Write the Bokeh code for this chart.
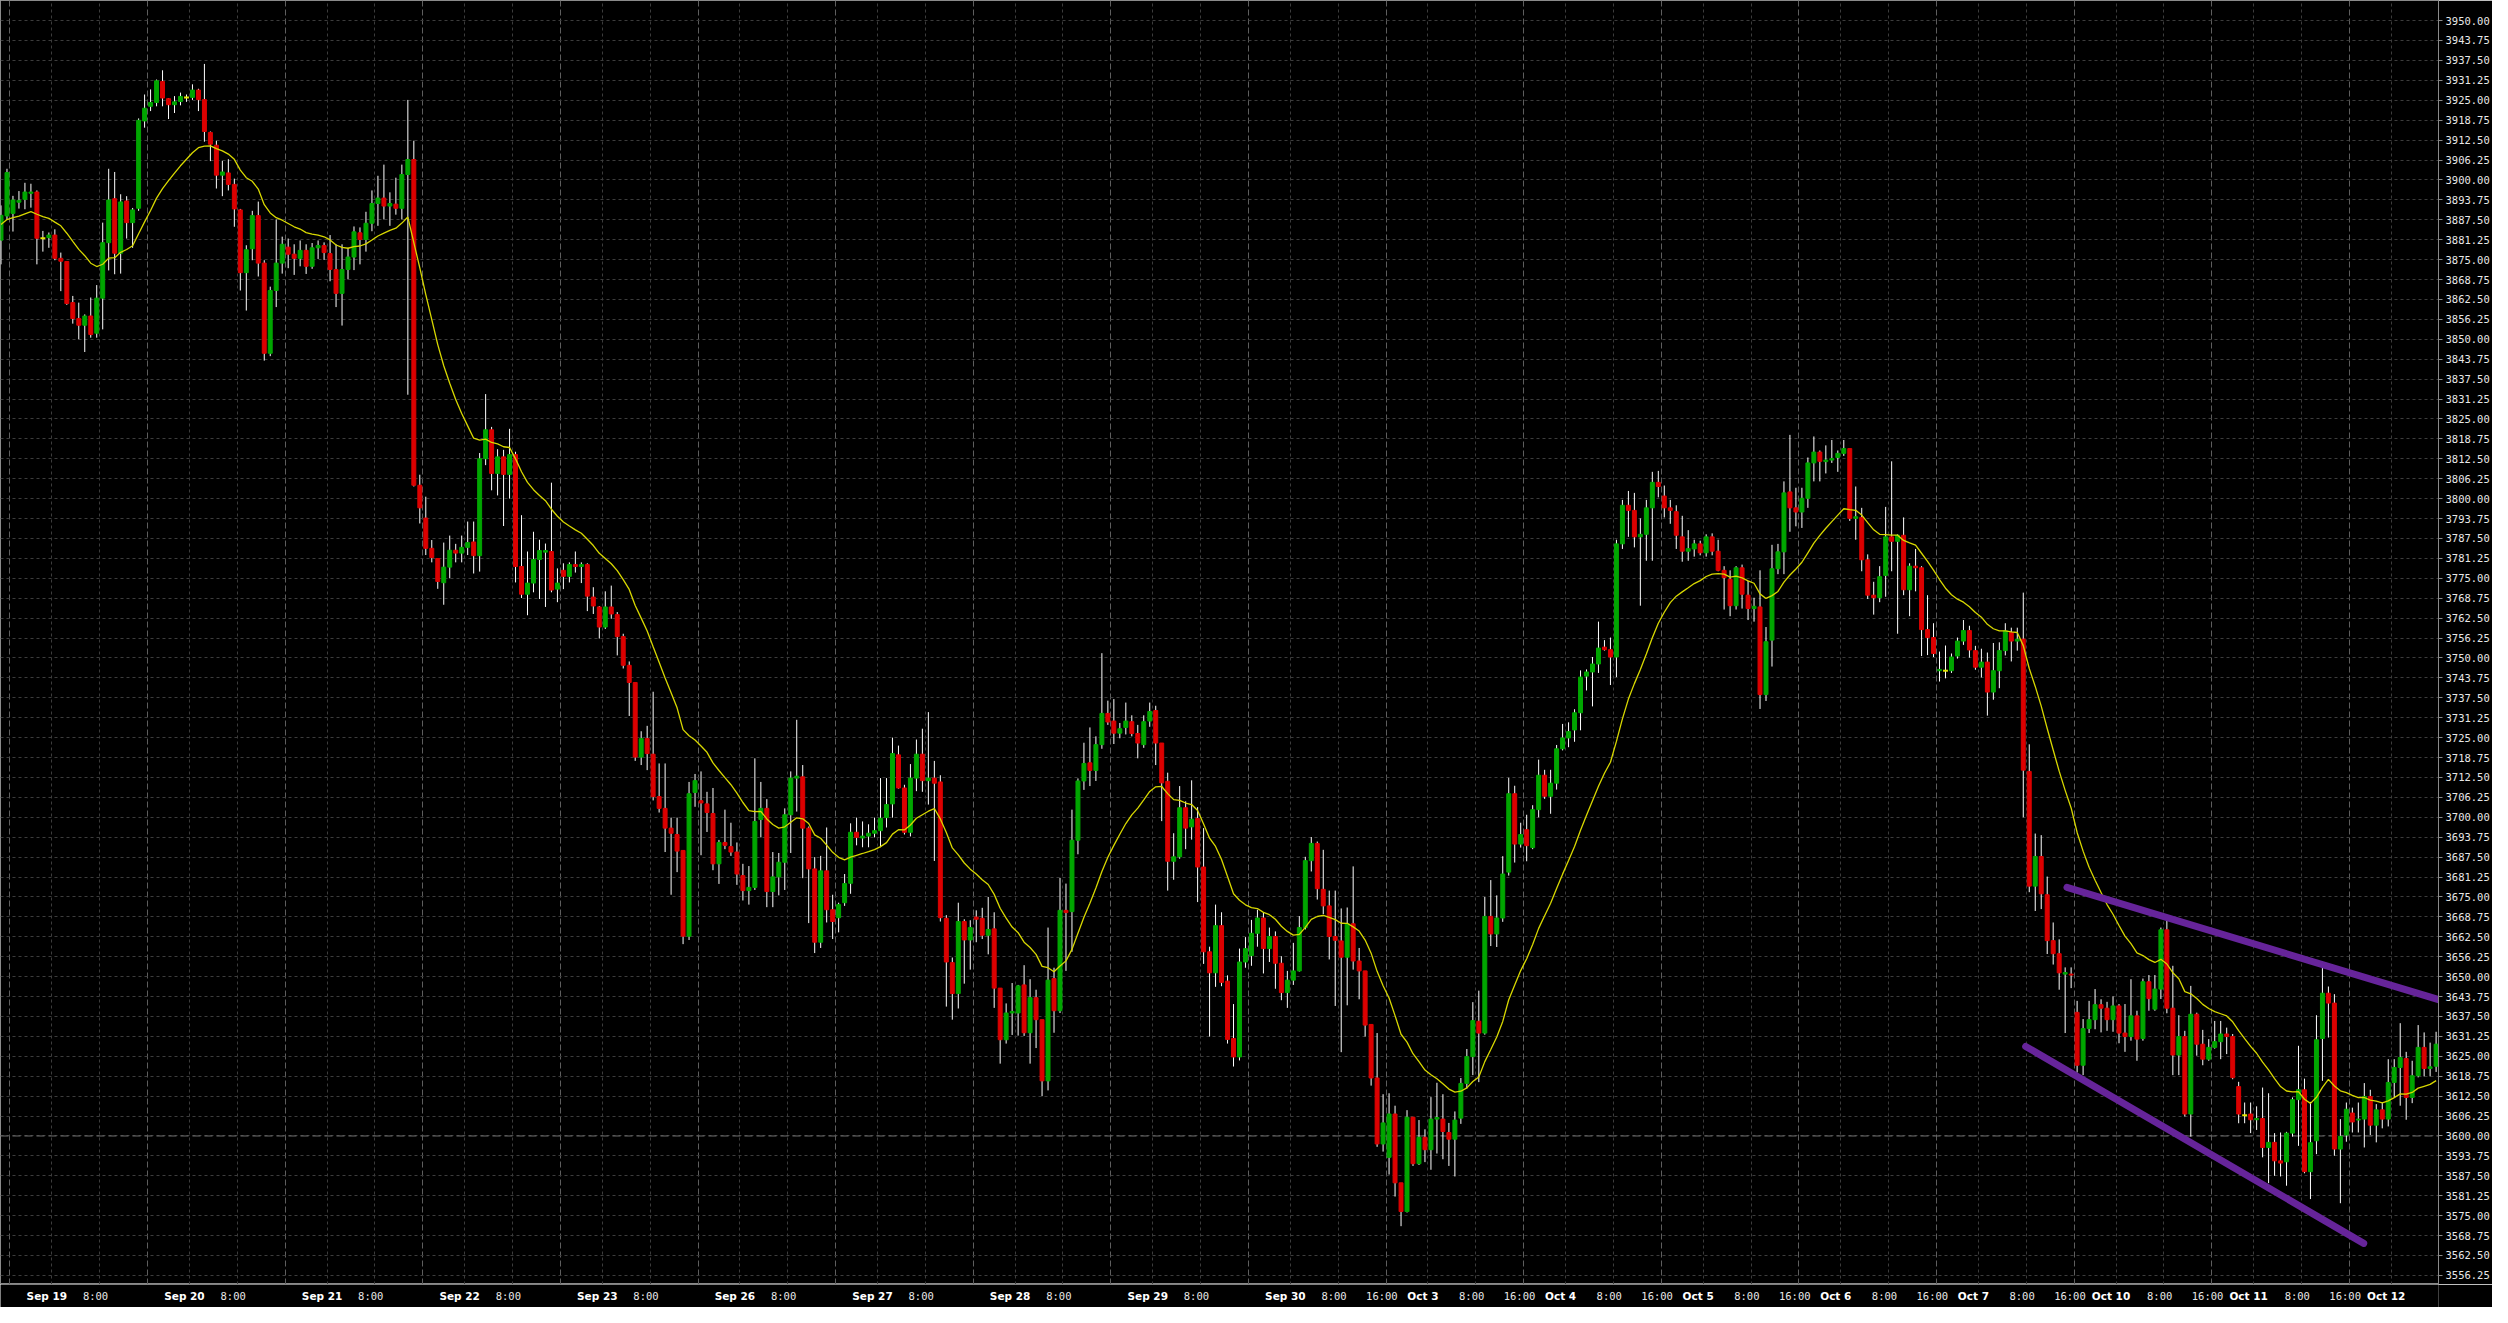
import numpy as np
from bokeh.plotting import figure
from bokeh.layouts import column
from bokeh.models import (Range1d, FixedTicker, Grid, PrintfTickFormatter, Span)
from bokeh.embed import file_html
from bokeh.resources import INLINE
from bokeh.core.properties import value

# ---------------- data (hourly bars) ----------------
opens = [
3881.1, 3888.7, 3889.5, 3893.0, 3893.9, 3895.8, 3896.2, 3881.7, 3881.9, 3882.7,
3875.4, 3874.4, 3861.5, 3856.5, 3854.4, 3857.3, 3851.9, 3862.9, 3880.3, 3894.1,
3877.0, 3893.4, 3886.6, 3891.1, 3918.5, 3923.1, 3924.3, 3930.9, 3925.5, 3923.6,
3924.6, 3925.9, 3925.9, 3928.2, 3925.2, 3914.9, 3910.9, 3901.5, 3902.2, 3898.6,
3890.6, 3870.9, 3878.4, 3888.8, 3873.9, 3845.6, 3865.3, 3873.9, 3878.9, 3876.7,
3875.4, 3877.9, 3872.9, 3878.7, 3879.4, 3876.9, 3871.9, 3864.4, 3871.9, 3875.8,
3883.4, 3881.3, 3886.4, 3892.6, 3894.3, 3891.8, 3892.4, 3891.1, 3901.7, 3906.4,
3804.2, 3793.9, 3784.4, 3781.2, 3773.6, 3778.5, 3783.8, 3782.9, 3784.7, 3786.4,
3782.1, 3812.5, 3821.6, 3807.9, 3813.1, 3807.6, 3813.8, 3778.7, 3770.0, 3773.5,
3780.9, 3783.2, 3783.4, 3771.6, 3777.5, 3775.6, 3779.3, 3778.7, 3779.3, 3769.1,
3766.0, 3759.7, 3766.0, 3763.6, 3756.7, 3747.7, 3742.3, 3718.9, 3724.7, 3719.8,
3706.5, 3702.8, 3696.6, 3694.6, 3689.6, 3662.7, 3707.8, 3705.2, 3704.2, 3701.2,
3685.4, 3692.1, 3690.8, 3689.1, 3681.7, 3677.0, 3678.0, 3699.3, 3702.8, 3676.7,
3681.3, 3685.9, 3700.8, 3712.3, 3712.7, 3696.6, 3683.8, 3660.8, 3683.2, 3671.0,
3668.5, 3673.2, 3679.3, 3695.3, 3693.5, 3694.1, 3695.0, 3695.8, 3699.9, 3704.2,
3719.6, 3709.2, 3695.3, 3712.3, 3719.8, 3711.5, 3712.3, 3711.1, 3668.3, 3654.4,
3644.7, 3667.3, 3661.5, 3668.7, 3668.3, 3663.0, 3665.0, 3646.4, 3630.2, 3638.6,
3638.6, 3647.4, 3632.4, 3643.4, 3636.5, 3617.3, 3649.4, 3639.3, 3670.8, 3670.4,
3692.8, 3711.4, 3717.1, 3714.7, 3722.8, 3732.6, 3730.2, 3726.4, 3728.2, 3730.0,
3726.3, 3722.8, 3730.2, 3733.5, 3723.3, 3711.3, 3686.2, 3687.6, 3703.0, 3697.0,
3699.6, 3684.4, 3657.8, 3651.2, 3666.0, 3648.6, 3630.6, 3624.8, 3654.6, 3656.6,
3663.6, 3668.4, 3658.8, 3662.6, 3654.2, 3645.0, 3648.9, 3651.8, 3665.4, 3686.4,
3691.8, 3677.4, 3672.2, 3662.6, 3661.2, 3656.1, 3666.6, 3654.9, 3651.8, 3635.0,
3618.2, 3597.5, 3593.3, 3606.9, 3585.3, 3576.3, 3605.9, 3591.3, 3599.6, 3595.7,
3605.3, 3605.3, 3601.1, 3599.0, 3605.6, 3616.5, 3624.9, 3636.0, 3632.3, 3668.9,
3663.4, 3668.4, 3682.8, 3707.4, 3691.6, 3696.1, 3690.5, 3702.4, 3713.2, 3706.6,
3710.7, 3721.5, 3724.9, 3727.4, 3732.8, 3744.3, 3745.6, 3748.1, 3753.4, 3752.6,
3750.3, 3785.8, 3797.9, 3796.3, 3788.0, 3788.8, 3797.1, 3805.1, 3800.8, 3797.1,
3795.9, 3788.0, 3783.5, 3784.2, 3785.8, 3783.0, 3788.0, 3783.5, 3777.5, 3774.7,
3766.4, 3778.3, 3769.7, 3765.5, 3766.0, 3738.5, 3755.6, 3778.0, 3783.3, 3802.1,
3797.1, 3795.8, 3800.1, 3811.2, 3814.6, 3811.6, 3812.1, 3812.9, 3814.2, 3815.7,
3793.8, 3794.1, 3780.8, 3769.7, 3768.9, 3775.9, 3788.0, 3786.6, 3788.5, 3771.4,
3778.8, 3778.3, 3758.9, 3756.4, 3746.0, 3746.0, 3746.0, 3750.6, 3755.3, 3758.6,
3752.3, 3747.1, 3748.7, 3739.3, 3746.0, 3752.3, 3758.0, 3755.3, 3755.9, 3714.4,
3678.4, 3687.7, 3675.7, 3661.3, 3657.2, 3650.8, 3650.8, 3638.8, 3622.2, 3633.7,
3636.5, 3641.2, 3640.1, 3636.5, 3640.8, 3632.3, 3631.2, 3637.7, 3630.6, 3648.4,
3639.8, 3646.1, 3664.7, 3640.1, 3625.4, 3631.2, 3606.9, 3638.2, 3628.8, 3624.1,
3627.8, 3629.6, 3632.0, 3631.2, 3615.5, 3606.5, 3606.9, 3605.1, 3605.5, 3596.4,
3598.0, 3592.2, 3591.9, 3600.9, 3611.4, 3614.5, 3588.8, 3598.5, 3630.6, 3644.8,
3641.7, 3595.9, 3600.3, 3607.2, 3605.0, 3605.3, 3612.4, 3603.4, 3608.2, 3605.3,
3616.8, 3621.5, 3624.3, 3612.1, 3618.9, 3627.8, 3621.2, 3621.9]

highs = [
3892.0, 3903.5, 3895.0, 3896.5, 3899.1, 3898.8, 3896.7, 3884.0, 3883.5, 3884.5,
3877.2, 3874.5, 3863.6, 3861.5, 3857.8, 3863.1, 3867.0, 3886.6, 3903.5, 3902.5,
3895.5, 3894.9, 3891.2, 3919.3, 3926.8, 3928.4, 3931.5, 3934.4, 3925.7, 3926.3,
3927.4, 3926.8, 3930.0, 3928.6, 3936.4, 3915.2, 3912.3, 3906.0, 3906.5, 3900.4,
3890.9, 3879.5, 3890.3, 3893.2, 3874.8, 3866.5, 3887.6, 3882.2, 3881.6, 3879.8,
3881.0, 3879.8, 3880.2, 3881.0, 3880.4, 3882.7, 3879.8, 3879.8, 3878.7, 3885.4,
3885.1, 3890.0, 3896.7, 3901.3, 3904.8, 3896.1, 3900.7, 3904.8, 3925.1, 3912.3,
3807.5, 3800.6, 3787.0, 3781.2, 3786.2, 3788.4, 3785.8, 3788.4, 3792.8, 3792.8,
3814.3, 3832.8, 3822.5, 3815.5, 3815.3, 3821.9, 3814.7, 3794.8, 3783.4, 3789.6,
3787.1, 3785.9, 3805.0, 3778.1, 3779.7, 3780.0, 3783.4, 3780.0, 3779.7, 3772.2,
3766.3, 3770.9, 3772.7, 3764.4, 3757.6, 3748.9, 3742.3, 3727.0, 3728.7, 3739.4,
3716.9, 3716.9, 3699.9, 3699.9, 3689.6, 3711.1, 3713.6, 3714.4, 3708.0, 3709.2,
3692.9, 3702.4, 3698.3, 3692.1, 3685.4, 3684.7, 3718.5, 3711.1, 3705.7, 3689.1,
3688.8, 3702.8, 3714.4, 3730.6, 3716.4, 3697.1, 3687.5, 3687.9, 3696.8, 3675.7,
3673.2, 3682.2, 3698.1, 3699.9, 3698.7, 3697.8, 3699.9, 3712.3, 3712.3, 3725.0,
3722.5, 3710.2, 3716.7, 3724.4, 3727.8, 3733.0, 3717.7, 3713.2, 3669.3, 3656.0,
3673.2, 3668.0, 3667.7, 3670.8, 3671.6, 3675.0, 3670.2, 3646.4, 3641.6, 3648.0,
3647.4, 3653.6, 3649.2, 3645.9, 3636.5, 3665.4, 3652.8, 3681.0, 3679.2, 3702.4,
3712.2, 3723.4, 3728.2, 3725.4, 3751.5, 3736.6, 3737.1, 3729.6, 3736.0, 3732.0,
3729.0, 3732.0, 3736.0, 3735.0, 3723.3, 3714.0, 3695.0, 3709.8, 3705.0, 3711.6,
3703.2, 3696.6, 3659.4, 3672.6, 3670.2, 3650.4, 3641.4, 3658.8, 3662.4, 3667.8,
3671.0, 3670.2, 3665.4, 3664.2, 3656.4, 3651.8, 3660.6, 3669.0, 3687.6, 3693.8,
3692.4, 3689.8, 3677.0, 3677.0, 3671.4, 3671.7, 3684.6, 3659.0, 3651.8, 3635.0,
3632.3, 3613.1, 3613.4, 3609.5, 3585.3, 3608.1, 3605.9, 3605.0, 3602.1, 3612.2,
3616.7, 3613.1, 3604.1, 3607.7, 3618.2, 3627.3, 3642.0, 3645.6, 3675.0, 3680.3,
3675.5, 3687.8, 3712.4, 3709.9, 3698.3, 3700.8, 3703.8, 3718.1, 3714.9, 3714.9,
3722.7, 3729.3, 3729.8, 3733.9, 3746.1, 3746.4, 3750.3, 3761.4, 3755.6, 3756.4,
3787.1, 3799.6, 3802.4, 3801.8, 3793.8, 3799.6, 3808.4, 3808.7, 3804.1, 3799.6,
3797.9, 3794.6, 3790.1, 3787.1, 3786.8, 3788.8, 3789.1, 3787.1, 3778.8, 3777.5,
3778.8, 3779.3, 3774.2, 3768.9, 3777.5, 3759.7, 3785.5, 3785.8, 3805.4, 3820.0,
3803.4, 3803.4, 3812.9, 3819.5, 3815.1, 3816.7, 3818.4, 3815.1, 3818.4, 3815.7,
3803.8, 3797.1, 3782.5, 3773.9, 3778.8, 3797.4, 3811.7, 3788.8, 3794.1, 3779.7,
3784.2, 3778.8, 3769.7, 3760.9, 3752.0, 3753.9, 3751.4, 3756.4, 3761.9, 3760.1,
3753.8, 3752.9, 3751.7, 3754.7, 3754.9, 3760.9, 3759.5, 3759.5, 3770.5, 3722.9,
3694.9, 3694.4, 3681.4, 3667.0, 3661.7, 3652.9, 3652.9, 3642.4, 3636.7, 3642.4,
3646.1, 3642.9, 3642.1, 3643.8, 3641.4, 3641.4, 3649.2, 3639.3, 3649.4, 3650.5,
3650.5, 3665.4, 3667.5, 3653.4, 3637.9, 3633.0, 3647.1, 3638.7, 3633.3, 3630.4,
3636.1, 3636.1, 3634.0, 3632.0, 3617.0, 3610.5, 3610.5, 3609.3, 3615.2, 3613.4,
3600.9, 3601.1, 3601.3, 3612.1, 3628.3, 3618.0, 3610.7, 3637.9, 3652.9, 3646.9,
3644.5, 3605.3, 3610.5, 3608.9, 3610.5, 3616.6, 3614.5, 3610.0, 3610.5, 3624.1,
3624.1, 3635.4, 3626.4, 3623.6, 3634.8, 3632.5, 3629.3, 3632.7]

lows = [
3873.5, 3887.6, 3883.8, 3891.0, 3890.8, 3891.3, 3873.5, 3877.5, 3878.7, 3874.8,
3865.1, 3860.8, 3854.9, 3850.0, 3846.0, 3850.5, 3850.5, 3853.1, 3871.6, 3870.4,
3870.6, 3881.6, 3878.7, 3890.3, 3916.4, 3921.6, 3923.1, 3923.1, 3919.1, 3921.0,
3923.4, 3924.5, 3925.1, 3921.6, 3912.0, 3905.9, 3897.3, 3894.9, 3896.7, 3885.3,
3865.3, 3859.0, 3874.8, 3869.7, 3843.3, 3844.7, 3860.1, 3870.6, 3872.3, 3870.2,
3872.9, 3870.5, 3872.1, 3875.2, 3874.9, 3868.2, 3860.1, 3854.3, 3868.8, 3871.7,
3873.5, 3877.5, 3883.9, 3885.6, 3887.6, 3885.6, 3889.1, 3887.6, 3832.6, 3803.8,
3792.2, 3782.3, 3780.0, 3771.7, 3766.7, 3775.0, 3780.0, 3780.0, 3782.3, 3776.5,
3777.1, 3810.5, 3802.6, 3801.0, 3791.4, 3800.0, 3773.7, 3768.8, 3763.4, 3770.6,
3768.5, 3766.0, 3770.6, 3767.5, 3771.6, 3773.7, 3776.8, 3773.5, 3764.7, 3763.8,
3756.1, 3759.1, 3762.3, 3750.8, 3746.7, 3731.8, 3717.7, 3716.4, 3714.8, 3705.3,
3701.5, 3689.1, 3675.7, 3682.8, 3660.2, 3661.5, 3703.3, 3688.1, 3695.4, 3683.4,
3679.1, 3690.0, 3687.9, 3678.8, 3673.9, 3672.6, 3677.2, 3693.7, 3671.8, 3671.8,
3675.5, 3677.2, 3688.8, 3701.8, 3680.9, 3666.8, 3657.4, 3659.0, 3667.0, 3661.8,
3663.9, 3672.2, 3676.0, 3691.2, 3690.6, 3690.6, 3693.7, 3690.6, 3696.8, 3699.9,
3709.0, 3694.6, 3694.0, 3708.2, 3708.0, 3704.0, 3686.3, 3667.3, 3640.6, 3636.5,
3640.0, 3647.8, 3652.2, 3660.8, 3661.8, 3657.0, 3640.2, 3622.7, 3629.0, 3631.7,
3631.5, 3631.4, 3622.7, 3627.6, 3612.5, 3614.3, 3632.4, 3638.6, 3651.8, 3657.8,
3688.4, 3708.6, 3709.8, 3711.4, 3721.5, 3729.0, 3723.0, 3724.8, 3726.0, 3725.4,
3718.5, 3721.8, 3728.4, 3716.4, 3698.8, 3677.0, 3680.4, 3687.0, 3690.0, 3693.0,
3673.4, 3654.0, 3631.2, 3646.8, 3647.0, 3629.0, 3621.8, 3623.7, 3652.8, 3653.4,
3659.4, 3651.0, 3654.6, 3646.2, 3642.6, 3640.2, 3647.4, 3651.6, 3664.8, 3683.0,
3674.2, 3669.6, 3655.4, 3640.8, 3626.3, 3641.0, 3652.2, 3642.9, 3631.2, 3615.8,
3596.6, 3595.1, 3587.9, 3581.0, 3571.7, 3576.0, 3590.6, 3590.9, 3591.8, 3589.4,
3594.5, 3592.7, 3590.6, 3587.3, 3603.8, 3614.9, 3619.1, 3616.9, 3631.8, 3659.6,
3659.3, 3667.2, 3681.7, 3685.8, 3690.5, 3686.2, 3690.0, 3700.0, 3705.8, 3701.1,
3708.7, 3721.0, 3722.0, 3723.7, 3727.3, 3739.8, 3734.8, 3745.3, 3752.3, 3741.5,
3744.0, 3784.2, 3788.0, 3784.7, 3766.4, 3780.5, 3780.5, 3800.4, 3794.1, 3792.1,
3784.2, 3780.2, 3780.5, 3781.8, 3782.2, 3781.8, 3782.2, 3777.2, 3765.2, 3763.1,
3765.2, 3765.5, 3761.9, 3761.4, 3734.0, 3736.5, 3747.3, 3776.3, 3776.3, 3789.6,
3791.3, 3790.8, 3797.1, 3805.4, 3805.4, 3807.9, 3811.2, 3808.4, 3813.4, 3793.0,
3787.1, 3777.2, 3768.5, 3763.6, 3767.5, 3769.2, 3777.2, 3757.6, 3769.7, 3763.1,
3770.9, 3750.6, 3750.9, 3750.3, 3742.6, 3743.6, 3745.3, 3749.8, 3754.1, 3750.1,
3746.3, 3743.9, 3731.9, 3736.9, 3740.5, 3750.8, 3748.9, 3752.3, 3700.0, 3676.5,
3670.6, 3671.2, 3657.1, 3653.8, 3645.9, 3632.3, 3646.4, 3619.9, 3619.1, 3632.3,
3633.5, 3632.5, 3633.0, 3632.7, 3629.1, 3626.4, 3629.9, 3623.6, 3629.9, 3639.3,
3639.3, 3643.0, 3638.5, 3619.1, 3619.1, 3606.1, 3599.8, 3625.2, 3622.2, 3623.6,
3627.4, 3624.1, 3625.7, 3617.8, 3604.0, 3604.0, 3600.9, 3601.9, 3593.3, 3585.2,
3587.5, 3587.3, 3584.4, 3599.8, 3596.9, 3588.3, 3580.2, 3594.3, 3617.3, 3630.9,
3593.8, 3578.9, 3598.2, 3601.1, 3601.1, 3596.4, 3600.3, 3598.0, 3602.4, 3603.0,
3612.1, 3609.5, 3605.1, 3610.3, 3618.4, 3618.7, 3618.7, 3620.1]

closes = [
3888.9, 3902.3, 3893.7, 3893.6, 3896.2, 3896.2, 3881.7, 3881.7, 3882.7, 3875.4,
3874.5, 3861.2, 3856.5, 3854.4, 3857.3, 3851.5, 3862.9, 3880.3, 3893.7, 3877.0,
3893.1, 3886.6, 3890.6, 3918.7, 3922.5, 3924.3, 3931.1, 3925.7, 3923.6, 3924.5,
3926.2, 3925.9, 3928.2, 3925.2, 3915.2, 3911.2, 3901.5, 3902.5, 3898.6, 3890.9,
3870.9, 3878.1, 3888.8, 3873.9, 3845.6, 3865.3, 3873.9, 3879.8, 3876.7, 3875.4,
3877.9, 3872.9, 3878.7, 3879.4, 3877.2, 3871.9, 3864.4, 3871.9, 3875.8, 3883.7,
3881.3, 3886.4, 3892.6, 3894.3, 3891.8, 3892.6, 3891.1, 3901.7, 3906.4, 3804.2,
3797.1, 3784.4, 3781.5, 3774.0, 3778.5, 3783.8, 3782.9, 3784.7, 3786.2, 3782.1,
3812.5, 3821.6, 3807.9, 3813.1, 3807.6, 3813.8, 3778.7, 3770.0, 3773.5, 3780.9,
3783.7, 3783.7, 3771.3, 3773.5, 3775.6, 3779.3, 3778.7, 3779.3, 3769.4, 3766.3,
3759.7, 3766.0, 3763.8, 3756.7, 3747.7, 3742.3, 3718.9, 3724.7, 3720.0, 3706.5,
3702.8, 3696.6, 3695.0, 3689.4, 3662.7, 3707.4, 3711.5, 3704.5, 3701.5, 3685.4,
3692.1, 3691.2, 3689.1, 3682.2, 3677.0, 3678.0, 3698.7, 3702.8, 3676.7, 3681.3,
3685.9, 3700.8, 3712.3, 3712.9, 3696.6, 3683.8, 3660.8, 3683.2, 3671.0, 3667.3,
3672.6, 3679.2, 3695.3, 3693.7, 3694.1, 3695.0, 3695.8, 3699.7, 3704.0, 3720.0,
3709.2, 3695.3, 3712.3, 3719.8, 3711.5, 3712.3, 3710.7, 3668.5, 3654.6, 3644.7,
3667.3, 3661.5, 3665.4, 3668.0, 3663.0, 3664.8, 3646.4, 3630.2, 3638.6, 3639.1,
3647.1, 3632.4, 3643.4, 3636.5, 3617.3, 3648.9, 3639.3, 3670.8, 3670.1, 3692.8,
3711.4, 3716.9, 3714.7, 3722.8, 3732.6, 3729.9, 3726.4, 3727.8, 3730.2, 3726.3,
3723.3, 3730.0, 3733.2, 3723.3, 3710.8, 3686.2, 3687.6, 3703.0, 3696.6, 3699.4,
3684.4, 3657.8, 3651.2, 3666.0, 3648.2, 3630.3, 3624.8, 3654.6, 3658.8, 3663.6,
3668.4, 3658.8, 3662.6, 3654.2, 3645.0, 3648.9, 3651.8, 3665.4, 3686.4, 3691.8,
3677.6, 3672.2, 3662.6, 3661.4, 3656.1, 3666.6, 3654.9, 3651.8, 3634.8, 3618.2,
3597.5, 3604.1, 3606.9, 3585.3, 3576.3, 3605.9, 3591.3, 3599.6, 3595.7, 3605.3,
3605.8, 3601.4, 3599.0, 3605.0, 3616.5, 3624.9, 3636.2, 3632.3, 3668.9, 3663.4,
3668.4, 3682.2, 3707.4, 3691.6, 3694.6, 3691.1, 3702.4, 3713.2, 3706.6, 3710.7,
3721.5, 3724.9, 3726.9, 3732.8, 3744.0, 3745.6, 3748.1, 3753.1, 3752.6, 3750.3,
3785.8, 3797.9, 3796.3, 3788.0, 3788.8, 3797.1, 3805.1, 3803.8, 3797.1, 3796.3,
3788.5, 3783.5, 3784.3, 3785.8, 3783.0, 3788.0, 3783.5, 3777.5, 3775.2, 3766.4,
3778.3, 3770.0, 3765.5, 3766.2, 3738.5, 3755.1, 3778.0, 3783.3, 3801.8, 3797.1,
3795.8, 3800.1, 3811.2, 3814.6, 3811.7, 3812.1, 3812.6, 3814.2, 3815.7, 3793.8,
3794.3, 3780.8, 3769.7, 3768.9, 3775.5, 3788.0, 3786.6, 3788.5, 3771.4, 3778.8,
3778.3, 3758.9, 3756.4, 3751.4, 3746.4, 3746.0, 3750.3, 3755.3, 3758.6, 3752.5,
3747.1, 3748.7, 3739.3, 3746.0, 3752.3, 3758.5, 3755.3, 3755.9, 3714.8, 3678.4,
3687.7, 3676.0, 3661.3, 3657.2, 3651.2, 3651.3, 3650.5, 3622.2, 3633.7, 3636.5,
3641.2, 3640.1, 3636.5, 3640.8, 3632.3, 3631.2, 3637.7, 3630.4, 3648.4, 3643.1,
3646.1, 3664.7, 3640.1, 3625.4, 3631.2, 3606.9, 3638.2, 3628.8, 3624.1, 3627.8,
3629.6, 3632.0, 3631.2, 3618.3, 3606.9, 3606.5, 3605.1, 3605.5, 3596.4, 3598.0,
3592.2, 3591.5, 3600.9, 3611.4, 3614.5, 3588.8, 3597.9, 3630.2, 3644.8, 3641.7,
3595.9, 3599.9, 3608.4, 3604.4, 3605.3, 3612.4, 3603.4, 3608.2, 3605.3, 3616.8,
3621.5, 3624.6, 3612.1, 3618.9, 3627.8, 3621.2, 3621.7, 3628.8]

# moving average: value read at the first bar, period of the indicator
ma_seed = 3886.0
ma_period = 20

# session structure (23 hourly bars per day)
day_names = ["Sep 19", "Sep 20", "Sep 21", "Sep 22", "Sep 23", "Sep 26", "Sep 27",
             "Sep 28", "Sep 29", "Sep 30", "Oct 3", "Oct 4", "Oct 5", "Oct 6",
             "Oct 7", "Oct 10", "Oct 11", "Oct 12"]
day_first_bar = [2, 25, 48, 71, 94, 117, 140, 163, 186, 209, 232, 255, 278,
                 301, 324, 347, 370, 393]
bars_to_8h = 7
bars_to_16h = 15
days_with_8h_label = day_names[:-1]
days_with_16h_label = ["Sep 30", "Oct 3", "Oct 4", "Oct 5", "Oct 6", "Oct 7",
                       "Oct 10", "Oct 11"]

price_ticks = [round(3556.25 + 6.25 * k, 2) for k in range(64)]
level_price = 3600.0

# drawn trend lines (bar index, price)
upper_trend_x = [345.3, 415.5]
upper_trend_y = [3678.0, 3638.2]
lower_trend_x = [338.4, 394.9]
lower_trend_y = [3628.1, 3566.3]

# ---------------- styling ----------------
BG = "#000000"
AXIS = "#8a8a8a"
GRID = "#3c3c3c"
DAYGRID = "#5e5e5e"
GREEN = "#00a600"
RED = "#dc0000"
DOJI = "#e6e600"
MA_COLOR = "#d8d800"
PURPLE = "#66249a"
TXT = "#e8e8e8"

W = 2492
H_MAIN = 1284
H_LAB = 23
RB = 53
x_start, x_end = -0.083, 407.4
y_start, y_end = 3553.4, 3956.3

p = figure(width=W, height=H_MAIN, output_backend="svg", toolbar_location=None,
           x_range=Range1d(x_start, x_end), y_range=Range1d(y_start, y_end),
           y_axis_location="right", min_border_left=0, min_border_top=0,
           min_border_right=RB, min_border_bottom=0)
p.background_fill_color = BG
p.border_fill_color = BG
p.outline_line_color = AXIS
p.outline_line_width = 1
p.xaxis.visible = False

# grids
p.ygrid.ticker = FixedTicker(ticks=price_ticks)
p.ygrid.grid_line_color = GRID
p.ygrid.grid_line_dash = "3 3"
p.xgrid.ticker = FixedTicker(ticks=[b - 0.5 for b in day_first_bar])
p.xgrid.grid_line_color = DAYGRID
p.xgrid.grid_line_dash = "6 3"
intra = []
for b in day_first_bar:
    intra += [b - 0.5 + bars_to_8h, b - 0.5 + bars_to_16h]
p.add_layout(Grid(dimension=0, ticker=FixedTicker(ticks=intra),
                  grid_line_color=GRID, grid_line_dash="3 3"))

p.add_layout(Span(location=level_price, dimension="width", line_color="#6e6e6e",
                  line_dash="8 4", line_width=1, level="underlay"))

# y axis
p.yaxis.ticker = FixedTicker(ticks=price_ticks)
p.yaxis.formatter = PrintfTickFormatter(format="%.2f")
p.yaxis.axis_line_color = AXIS
p.yaxis.major_tick_line_color = AXIS
p.yaxis.major_tick_out = 4
p.yaxis.major_tick_in = 0
p.yaxis.minor_tick_line_color = None
p.yaxis.major_label_standoff = 3
p.yaxis.major_label_text_font = "DejaVu Sans Mono"
p.yaxis.major_label_text_font_size = "10.5px"
p.yaxis.major_label_text_color = TXT

# candles
o = np.array(opens); h = np.array(highs); l = np.array(lows); c = np.array(closes)
idx = np.arange(len(c))
up = c > o
dn = c < o
dj = c == o

p.segment(x0=idx, y0=l, x1=idx, y1=h, line_color="#ffffff", line_width=1)
p.vbar(x=idx[up], top=c[up], bottom=o[up], width=0.66, fill_color=GREEN,
       line_color=GREEN, line_width=1)
p.vbar(x=idx[dn], top=o[dn], bottom=c[dn], width=0.66, fill_color=RED,
       line_color=RED, line_width=1)
p.rect(x=idx[dj], y=c[dj], width=0.82, height=2, height_units="screen",
       fill_color=DOJI, line_color=None)

# moving average of the closes
alpha = 2.0 / (ma_period + 1)
ema = [ma_seed]
for v in closes[1:]:
    ema.append(ema[-1] + alpha * (v - ema[-1]))
p.line(idx, ema, line_color=MA_COLOR, line_width=1.3)

# trend lines
p.line(lower_trend_x, lower_trend_y, line_color=PURPLE, line_width=7, line_cap="round")
p.line(upper_trend_x, upper_trend_y, line_color=PURPLE, line_width=7, line_cap="round")

# ---------------- time scale strip under the chart ----------------
q = figure(width=W, height=H_LAB, output_backend="svg", toolbar_location=None,
           x_range=p.x_range, y_range=Range1d(0, 1),
           x_axis_location=None, y_axis_location=None,
           min_border_left=0, min_border_top=0, min_border_right=RB,
           min_border_bottom=0)
q.background_fill_color = BG
q.border_fill_color = BG
q.outline_line_color = None
q.grid.visible = False

date_x = [b - 0.5 + 6.16 for b in day_first_bar]
q.text(x=date_x, y=[0.5] * len(date_x), text=day_names,
       text_align="center", text_baseline="middle",
       text_font=value("DejaVu Sans"), text_font_style="bold",
       text_font_size="10.5px", text_color="#ffffff")

tx, tt = [], []
for n, b in zip(day_names, day_first_bar):
    if n in days_with_8h_label:
        tx.append(b - 0.5 + bars_to_8h + 7.3); tt.append("8:00")
    if n in days_with_16h_label:
        tx.append(b - 0.5 + bars_to_16h + 7.3); tt.append("16:00")
q.text(x=tx, y=[0.5] * len(tx), text=tt,
       text_align="center", text_baseline="middle",
       text_font=value("DejaVu Sans Mono"), text_font_size="10.5px",
       text_color=TXT)

layout = column(p, q, spacing=0)
open("out.html", "w").write(file_html(layout, INLINE))
